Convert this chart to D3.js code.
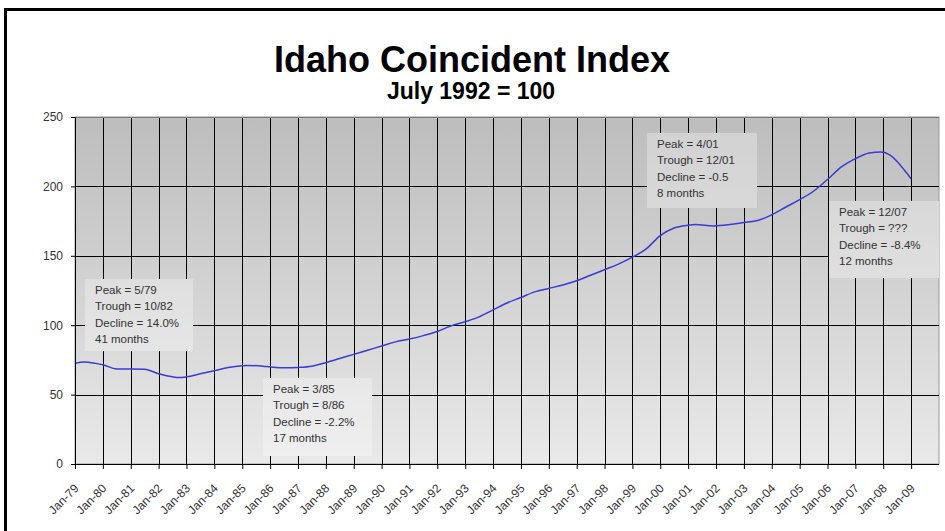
<html>
    <head>
        <title>Idaho Coincident Index</title>
        <style>
            body { margin: 0; background: #fff; }
            .chart text { font-family: Arial, "Liberation Sans", sans-serif; }
            .chart .axis text { fill: #333; font-size: 12px; }
            .chart .axis line, .chart .axis path { stroke: #000; }
            .chart .grid line { stroke: #000; stroke-width: 1; }
            .chart .note text { fill: #333; font-size: 11.5px; }
        </style>
    </head>
    <body>
        <svg class="chart" width="945" height="531"></svg>
        <script src="https://d3js.org/d3.v7.min.js"></script>
        <script>

            // index values (month, index)
            var obsMonths = ['1979-01','1979-05','1979-10','1980-01','1980-07','1981-01','1981-07','1982-01','1982-07','1982-10',
                             '1983-01','1983-07','1984-01','1984-07','1985-01','1985-03','1985-10','1986-01','1986-08','1987-01',
                             '1987-07','1988-01','1988-07','1989-01','1989-07','1990-01','1990-07','1991-01','1991-07','1992-01',
                             '1992-07','1993-01','1993-07','1994-01','1994-07','1995-01','1995-07','1996-01','1996-07','1997-01',
                             '1997-07','1998-01','1998-07','1999-01','1999-07','2000-01','2000-07','2001-01',
                             '2001-04','2001-12','2002-07','2003-01','2003-07','2004-01','2004-07','2005-01','2005-07','2006-01',
                             '2006-07','2007-01','2007-07','2007-12','2008-04','2008-07','2008-10','2009-01'];
            var obsValues = [72.5, 73.5, 72.5, 71.5, 68.5, 68.5, 68.3, 65, 62.8, 62.3,
                             62.8, 65, 67.2, 69.5, 70.8, 71, 70.5, 70, 69.3, 69.6,
                             70.5, 73, 76, 79, 82, 85, 88, 90, 92.5, 95.5,
                             99.5, 102.5, 106, 111, 116, 120, 124, 126.5, 129, 132,
                             136, 140, 144, 149, 155, 164.5, 170, 172,
                             172.5, 171.5, 172.5, 174, 175.5, 179.5, 185, 190.5, 196.5, 205,
                             214, 220, 224, 224.8, 222.5, 218, 212, 205.5];

            var yTicks = [0, 50, 100, 150, 200, 250];

            var noteLines = [
              ['Peak = 5/79', 'Trough = 10/82', 'Decline = 14.0%', '41 months'],
              ['Peak = 3/85', 'Trough = 8/86', 'Decline = -2.2%', '17 months'],
              ['Peak = 4/01', 'Trough = 12/01', 'Decline = -0.5', '8 months'],
              ['Peak = 12/07', 'Trough = ???', 'Decline = -8.4%', '12 months']
            ];
            // box layout in pixels
            var noteBoxes = [
              {x: 85, y: 279, w: 108, h: 72},
              {x: 263, y: 378, w: 109, h: 78},
              {x: 647, y: 133, w: 110, h: 75},
              {x: 829, y: 201, w: 110, h: 77}
            ];

            var parse = d3.timeParse('%Y-%m');
            var data = obsMonths.map(function(m, i) { return {date: parse(m), value: obsValues[i]}; });

            var plotLeft = 75, plotRight = 939, plotTop = 117, plotBottom = 464;

            var x = d3.scaleTime()
              .domain([new Date(1979, 0, 1), new Date(2010, 0, 1)])
              .range([plotLeft, plotRight]);

            var y = d3.scaleLinear()
              .domain([0, 250])
              .range([plotBottom, plotTop]);

            var yearTicks = d3.timeYear.range(new Date(1979, 0, 1), new Date(2009, 0, 2));

            var svg = d3.select('svg');
            var defs = svg.append('defs');
            var grad = defs.append('linearGradient')
              .attr('id', 'bg')
              .attr('gradientUnits', 'userSpaceOnUse')
              .attr('x1', 0).attr('y1', plotTop).attr('x2', 0).attr('y2', plotBottom);
            grad.append('stop').attr('offset', 0).attr('stop-color', '#bdbdbd');
            grad.append('stop').attr('offset', 1).attr('stop-color', '#e9e9e9');

            // outer frame (only left and top show)
            svg.append('rect')
              .attr('x', 5.5).attr('y', 9.5).attr('width', 1000).attr('height', 600)
              .attr('fill', 'none').attr('stroke', '#000').attr('stroke-width', 3);

            svg.append('text')
              .attr('x', 472).attr('y', 72)
              .attr('text-anchor', 'middle')
              .style('font-size', '36px').style('font-weight', 'bold')
              .text('Idaho Coincident Index');
            svg.append('text')
              .attr('x', 471).attr('y', 99)
              .attr('text-anchor', 'middle')
              .style('font-size', '23px').style('font-weight', 'bold')
              .text('July 1992 = 100');

            // plot area
            svg.append('rect')
              .attr('x', plotLeft).attr('y', plotTop)
              .attr('width', plotRight - plotLeft).attr('height', plotBottom - plotTop)
              .attr('fill', 'url(#bg)')
              .attr('stroke', '#999');

            var grid = svg.append('g').attr('class', 'grid');
            grid.selectAll('line.v')
              .data(yearTicks)
              .enter()
              .append('line')
              .attr('class', 'v')
              .attr('x1', function(d) { return Math.round(x(d)) + 0.5; })
              .attr('x2', function(d) { return Math.round(x(d)) + 0.5; })
              .attr('y1', plotTop).attr('y2', plotBottom);
            grid.selectAll('line.h')
              .data(yTicks)
              .enter()
              .append('line')
              .attr('class', 'h')
              .attr('x1', plotLeft).attr('x2', plotRight)
              .attr('y1', function(d) { return Math.round(y(d)) + 0.5; })
              .attr('y2', function(d) { return Math.round(y(d)) + 0.5; })
              .style('stroke', function(d) { return d == 250 ? '#777' : '#000'; });

            // annotation boxes sit over the grid
            var notes = svg.append('g').attr('class', 'note');
            noteBoxes.forEach(function(b, i) {
              var g = notes.append('g');
              g.append('rect').attr('x', b.x).attr('y', b.y).attr('width', b.w).attr('height', b.h)
                .attr('fill', 'url(#bg)');
              g.append('rect').attr('x', b.x).attr('y', b.y).attr('width', b.w).attr('height', b.h)
                .attr('fill', '#fff').attr('opacity', 0.3);
              g.selectAll('text')
                .data(noteLines[i])
                .enter()
                .append('text')
                .attr('x', b.x + 10)
                .attr('y', function(d, j) { return b.y + 11 + j * 16.3; })
                .attr('dy', '0.35em')
                .text(function(d) { return d; });
            });

            var line = d3.line()
              .x(function(d) { return x(d.date); })
              .y(function(d) { return y(d.value); })
              .curve(d3.curveMonotoneX);

            svg.append('path')
              .datum(data)
              .attr('d', line)
              .attr('fill', 'none')
              .attr('stroke', '#3a3ad6')
              .attr('stroke-width', 1.5);

            var xAxis = d3.axisBottom(x)
              .tickValues(yearTicks)
              .tickSize(5)
              .tickFormat(d3.timeFormat('%b-%y'));

            var xg = svg.append('g').attr('class', 'axis')
              .attr('transform', 'translate(0,' + plotBottom + ')')
              .call(xAxis);
            xg.select('.domain').attr('d', 'M' + plotLeft + ',0.5H' + plotRight);
            xg.selectAll('.tick text')
              .attr('text-anchor', 'end')
              .attr('y', 0)
              .attr('dy', '0.35em')
              .attr('transform', 'translate(1,22) rotate(-45)');

            var yAxis = d3.axisLeft(y)
              .tickValues(yTicks)
              .tickSize(4)
              .tickPadding(8);
            var yg = svg.append('g').attr('class', 'axis')
              .attr('transform', 'translate(' + plotLeft + ',0)')
              .call(yAxis);

        </script>
    </body>
</html>
